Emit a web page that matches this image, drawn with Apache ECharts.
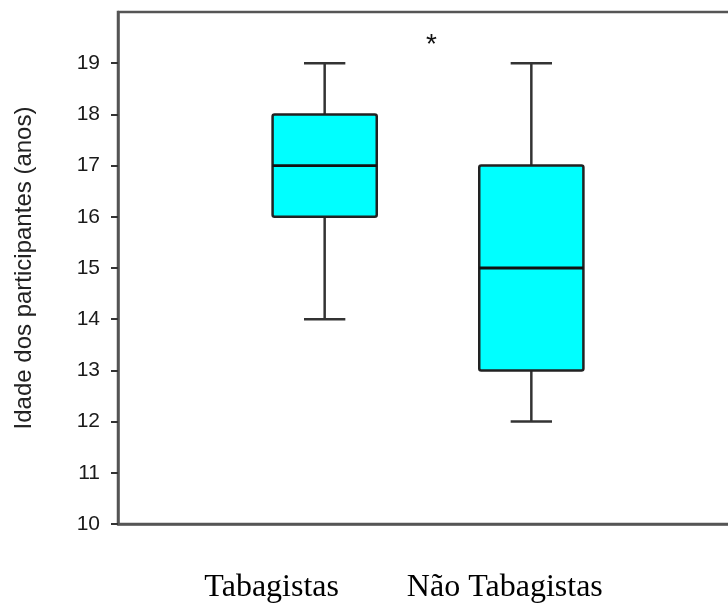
<!DOCTYPE html>
<html>
<head>
<meta charset="utf-8">
<script src="https://cdn.jsdelivr.net/npm/echarts@6/dist/echarts.min.js"></script>
<style>
  html, body { margin: 0; padding: 0; background: #fff; }
  #chart { width: 728px; height: 607px; }
</style>
</head>
<body>
<div id="chart"></div>
<script>
// categorias (as pontas vazias só servem de margem)
const categories = ['', 'Tabagistas', 'Não Tabagistas', ''];
// [min, Q1, mediana, Q3, max]
const tabagistas = [14, 16, 17, 18, 19];
const naoTabagistas = [12, 13, 15, 17, 19];
const yTicks = [10, 11, 12, 13, 14, 15, 16, 17, 18, 19];

const boxData = [
  [1].concat(tabagistas),
  [2].concat(naoTabagistas)
];

const chart = echarts.init(document.getElementById('chart'));

// desenha caixa, mediana e bigodes
const renderBox = (params, api) => {
  const x = api.value(0);
  const pMin = api.coord([x, api.value(1)]);
  const pQ1 = api.coord([x, api.value(2)]);
  const pMed = api.coord([x, api.value(3)]);
  const pQ3 = api.coord([x, api.value(4)]);
  const pMax = api.coord([x, api.value(5)]);
  const band = api.size([1, 0])[0];
  const half = band * 0.252;
  const cap = band * 0.1;
  const cx = pMed[0];
  const lineStyle = { stroke: '#333', lineWidth: 2.5 };
  return {
    type: 'group',
    children: [
      { type: 'line', shape: { x1: cx, y1: pQ3[1], x2: cx, y2: pMax[1] }, style: lineStyle },
      { type: 'line', shape: { x1: cx, y1: pQ1[1], x2: cx, y2: pMin[1] }, style: lineStyle },
      { type: 'line', shape: { x1: cx - cap, y1: pMax[1], x2: cx + cap, y2: pMax[1] }, style: lineStyle },
      { type: 'line', shape: { x1: cx - cap, y1: pMin[1], x2: cx + cap, y2: pMin[1] }, style: lineStyle },
      {
        type: 'rect',
        shape: { x: cx - half, y: pQ3[1], width: half * 2, height: pQ1[1] - pQ3[1], r: 2 },
        style: { fill: '#00ffff', stroke: '#222', lineWidth: 2.5 }
      },
      { type: 'line', shape: { x1: cx - half, y1: pMed[1], x2: cx + half, y2: pMed[1] }, style: { stroke: '#111', lineWidth: 2.8 } }
    ]
  };
};

const option = {
  animation: false,
  backgroundColor: '#fff',
  grid: {
    left: 118,
    right: -10,
    top: 12,
    bottom: 83,
    containLabel: false,
    outerBoundsMode: 'none',
    show: true,
    borderColor: '#555',
    borderWidth: 2.5
  },
  xAxis: {
    type: 'category',
    data: categories,
    boundaryGap: false,
    axisLine: { show: true, lineStyle: { color: '#555', width: 2.5 } },
    axisTick: { show: false },
    splitLine: { show: false },
    axisLabel: {
      interval: 0,
      margin: 48,
      fontFamily: 'Liberation Serif',
      fontSize: 32,
      color: '#000',
      formatter: (v) => {
        if (!v) return '';
        return v === 'Tabagistas' ? '{a|' + v + '}' : '{b|' + v + '}';
      },
      rich: {
        a: { fontFamily: 'Liberation Serif', fontSize: 32, color: '#000', padding: [0, 106, 0, 0] },
        b: { fontFamily: 'Liberation Serif', fontSize: 32, color: '#000', padding: [0, 53, 0, 0] }
      }
    }
  },
  yAxis: {
    type: 'value',
    min: 10,
    max: 20,
    interval: 1,
    name: 'Idade dos participantes (anos)',
    nameLocation: 'middle',
    nameGap: 82,
    nameTextStyle: { fontFamily: 'Liberation Sans', fontSize: 24, color: '#222' },
    axisLine: { show: true, lineStyle: { color: '#555', width: 2.5 } },
    axisTick: { show: true, length: 7, customValues: yTicks, lineStyle: { color: '#333', width: 2 } },
    splitLine: { show: false },
    axisLabel: {
      customValues: yTicks,
      margin: 18,
      fontFamily: 'Liberation Sans',
      fontSize: 21,
      color: '#1a1a1a'
    }
  },
  graphic: [
    {
      type: 'text',
      left: 426,
      top: 31,
      style: { text: '*', font: '28px "Liberation Sans"', fill: '#111' }
    }
  ],
  series: [
    {
      type: 'custom',
      renderItem: renderBox,
      encode: { x: 0, y: [1, 2, 3, 4, 5] },
      data: boxData,
      clip: false
    }
  ]
};

chart.setOption(option);
</script>
</body>
</html>
